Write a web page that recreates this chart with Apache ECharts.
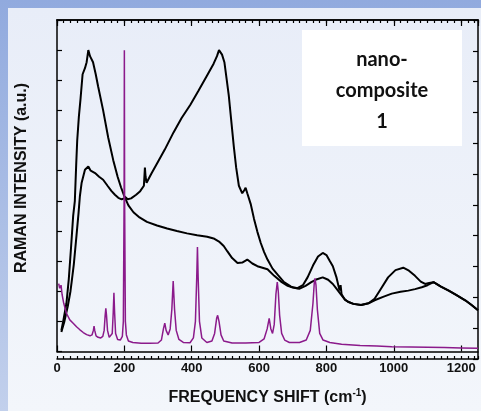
<!DOCTYPE html>
<html><head><meta charset="utf-8">
<script src="https://cdn.jsdelivr.net/npm/echarts@6/dist/echarts.min.js"></script>
<style>
html,body{margin:0;padding:0;overflow:hidden;}
#frame{position:absolute;left:0;top:0;width:481px;height:411px;background:linear-gradient(to bottom,#91aade,#c2d0ec);}
#panel{position:absolute;left:8px;top:8px;width:473px;height:403px;background:linear-gradient(to bottom,#e8edf8,#f3f6fb);}
#chart{position:absolute;left:0;top:0;width:481px;height:411px;}
</style></head><body>
<div id="frame"></div><div id="panel"></div><div id="chart"></div>
<script>
// Axis settings (values)
const xMin = 0, xMax = 1250, xMajor = 200, xMinor = 20;
const yMin = 0, yMax = 11, yStep = 1;
const xTitle = 'FREQUENCY SHIFT (cm';
const xTitleSup = '-1';
const yTitle = 'RAMAN INTENSITY (a.u.)';
const boxLines = ['nano-', 'composite', '1'];

// Spectrum A (upper black curve, two big bands ~90 and ~480 cm-1)
const curveA = [[13,0.7],[20,1.1],[28,1.6],[35,2.4],[42,3.5],[48,4.5],[53,5.0],[57,6.2],[60,7.0],[65,7.8],[70,8.4],[76,9.2],[83,9.4],[88,9.6],[93,10.0],[98,9.8],[107,9.6],[115,9.2],[122,8.8],[137,8.0],[152,7.1],[167,6.35],[180,5.8],[190,5.45],[200,5.15],[210,5.05],[220,5.08],[235,5.2],[247,5.32],[258,5.5],[261,6.1],[263,5.8],[266,5.6],[280,5.9],[297,6.24],[320,6.7],[346,7.27],[370,7.75],[396,8.19],[420,8.65],[446,9.17],[465,9.55],[475,9.8],[481,10.0],[490,9.85],[497,9.6],[503,9.1],[510,8.5],[517,7.7],[525,6.8],[532,6.1],[540,5.5],[550,5.25],[556,5.35],[560,5.43],[565,5.25],[575,4.9],[585,4.4],[595,3.97],[605,3.6],[615,3.3],[625,3.05],[640,2.75],[655,2.55],[674,2.3],[695,2.15],[714,2.1],[730,2.2],[744,2.46],[760,2.85],[775,3.15],[789,3.27],[800,3.2],[810,3.0],[819,2.83],[830,2.45],[839,2.02],[842,2.2],[845,1.9],[855,1.72],[864,1.65],[880,1.58],[903,1.54],[925,1.6],[943,1.75],[960,2.05],[983,2.46],[1005,2.7],[1028,2.78],[1045,2.68],[1063,2.51],[1080,2.32],[1093,2.24],[1105,2.27],[1118,2.3],[1140,2.15],[1163,2.02],[1185,1.88],[1212,1.7],[1230,1.55],[1250,1.37]];

// Spectrum B (lower black curve)
const curveB = [[13,0.65],[22,1.0],[32,1.5],[40,2.0],[44,2.35],[50,2.9],[58,3.86],[64,4.6],[68,5.16],[73,5.59],[83,6.03],[93,6.14],[100,6.0],[113,5.92],[125,5.8],[137,5.7],[150,5.5],[162,5.32],[172,5.2],[182,5.1],[192,5.05],[202,5.1],[212,4.85],[227,4.62],[245,4.45],[267,4.3],[297,4.18],[327,4.08],[356,4.0],[386,3.92],[416,3.86],[446,3.81],[465,3.75],[481,3.65],[495,3.5],[506,3.32],[520,3.1],[536,2.94],[550,2.95],[565,3.05],[580,2.92],[595,2.83],[625,2.73],[645,2.51],[665,2.32],[685,2.18],[700,2.12],[719,2.08],[738,2.18],[755,2.3],[772,2.4],[789,2.46],[805,2.38],[819,2.24],[832,2.05],[845,1.86],[855,1.72],[864,1.65],[880,1.58],[903,1.54],[925,1.6],[943,1.7],[970,1.82],[994,1.92],[1020,1.98],[1043,2.02],[1063,2.07],[1083,2.13],[1100,2.2],[1118,2.3],[1140,2.15],[1163,2.02],[1185,1.88],[1212,1.7],[1230,1.55],[1250,1.37]];

// Reference spectrum (purple, sharp lines)
const refSpectrum = [[5,2.25],[8,2.1],[12,2.2],[15,1.9],[20,1.6],[28,1.27],[38,1.05],[48,0.94],[58,0.82],[68,0.72],[78,0.63],[88,0.56],[98,0.52],[104,0.55],[108,0.7],[110,0.84],[112,0.7],[116,0.52],[122,0.47],[130,0.45],[136,0.5],[140,0.7],[143,1.2],[145,1.43],[147,1.2],[150,0.7],[155,0.47],[160,0.45],[164,0.6],[167,1.3],[169,1.95],[171,1.3],[174,0.6],[180,0.4],[188,0.38],[194,0.5],[197,1.0],[199.2,5.0],[200,10.0],[200.8,5.0],[203,1.0],[206,0.55],[212,0.35],[225,0.3],[250,0.27],[275,0.27],[300,0.28],[310,0.38],[316,0.75],[320,0.94],[324,0.7],[330,0.55],[336,0.75],[341,1.4],[345,2.34],[349,1.4],[354,0.7],[362,0.4],[375,0.3],[395,0.29],[405,0.45],[411,1.0],[415,2.5],[417,3.47],[419,2.5],[423,1.0],[430,0.45],[445,0.3],[460,0.35],[468,0.6],[474,1.1],[477,1.2],[481,1.0],[487,0.55],[495,0.35],[520,0.28],[560,0.28],[600,0.3],[615,0.42],[624,0.75],[630,1.1],[635,0.75],[640,0.6],[645,0.9],[650,1.9],[654,2.3],[657,2.0],[661,1.2],[667,0.6],[676,0.38],[690,0.3],[720,0.3],[740,0.38],[752,0.7],[760,1.6],[764,2.3],[766,2.43],[769,2.2],[773,1.4],[780,0.6],[790,0.38],[810,0.3],[845,0.24],[900,0.2],[950,0.18],[994,0.16],[1050,0.15],[1100,0.14],[1150,0.13],[1200,0.12],[1250,0.11]];

const FONT = "'Liberation Sans', Arial, sans-serif";
const chart = echarts.init(document.getElementById('chart'), null, {renderer: 'canvas'});

const gridBox = {left: 57, right: 3, top: 20, bottom: 52, containLabel: false};

function xAx(grid, pos, interval, tickLen, labels) {
  return {
    gridIndex: grid, type: 'value', position: pos, min: xMin, max: xMax, interval: interval,
    axisLine: {show: true, onZero: false, lineStyle: {color: '#000', width: 1.5}},
    axisTick: {show: true, inside: true, length: tickLen, lineStyle: {color: '#000', width: 1.2}},
    axisLabel: labels ? {
      show: true, margin: 10, color: '#111', fontFamily: FONT, fontWeight: 'bold', fontSize: 13,
      showMaxLabel: false,
      formatter: v => (v % xMajor === 0 ? String(v) : '')
    } : {show: false},
    splitLine: {show: false}
  };
}
function yAx(grid, pos, visible) {
  return {
    gridIndex: grid, type: 'value', position: pos, min: yMin, max: yMax, interval: yStep, show: visible,
    axisLine: {show: true, onZero: false, lineStyle: {color: '#000', width: 1.5}},
    axisTick: {show: true, inside: true, length: 5, lineStyle: {color: '#000', width: 1.2}},
    axisLabel: {show: false},
    splitLine: {show: false}
  };
}

const xAxes = [
  xAx(0, 'bottom', xMajor, 6, true),
  xAx(1, 'top', xMajor, 6, false),
  xAx(2, 'bottom', xMinor, 3, false),
  xAx(3, 'top', xMinor, 3, false)
];
xAxes[0].name = '{a|' + xTitle + '}{s|' + xTitleSup + '}{a|)}';
xAxes[0].nameLocation = 'middle';
xAxes[0].nameGap = 37;
xAxes[0].nameTextStyle = {
  rich: {
    a: {fontFamily: FONT, fontWeight: 'bold', fontSize: 16, color: '#111'},
    s: {fontFamily: FONT, fontWeight: 'bold', fontSize: 10, color: '#111', padding: [0, 0, 9, 0]}
  }
};

chart.setOption({
  animation: false,
  backgroundColor: 'transparent',
  grid: [gridBox, gridBox, gridBox, gridBox],
  xAxis: xAxes,
  yAxis: [yAx(0, 'left', true), yAx(1, 'right', true), yAx(2, 'left', false), yAx(3, 'right', false)],
  series: [
    {type: 'line', data: curveA, showSymbol: false, xAxisIndex: 0, yAxisIndex: 0, lineStyle: {color: '#000', width: 2}, z: 2},
    {type: 'line', data: curveB, showSymbol: false, xAxisIndex: 0, yAxisIndex: 0, lineStyle: {color: '#000', width: 2}, z: 2},
    {type: 'line', data: refSpectrum, showSymbol: false, xAxisIndex: 0, yAxisIndex: 0, lineStyle: {color: '#8b1a8b', width: 1.5}, z: 3}
  ],
  graphic: [
    {type: 'text', x: 22, y: 178, rotation: Math.PI / 2, z: 10,
      style: {text: yTitle, fontFamily: FONT, fontWeight: 'bold', fontSize: 16, fill: '#111', align: 'center', verticalAlign: 'middle'}},
    {type: 'rect', shape: {x: 302, y: 30, width: 160, height: 116}, style: {fill: '#ffffff'}, z: 20},
    {type: 'text', x: 382, y: 91, z: 21,
      style: {text: boxLines.join('\n'), fontFamily: "Lato, 'Open Sans', sans-serif", fontWeight: 'bold', fontSize: 20, lineHeight: 31, fill: '#111', align: 'center', verticalAlign: 'middle'}}
  ]
});
</script>
</body></html>
